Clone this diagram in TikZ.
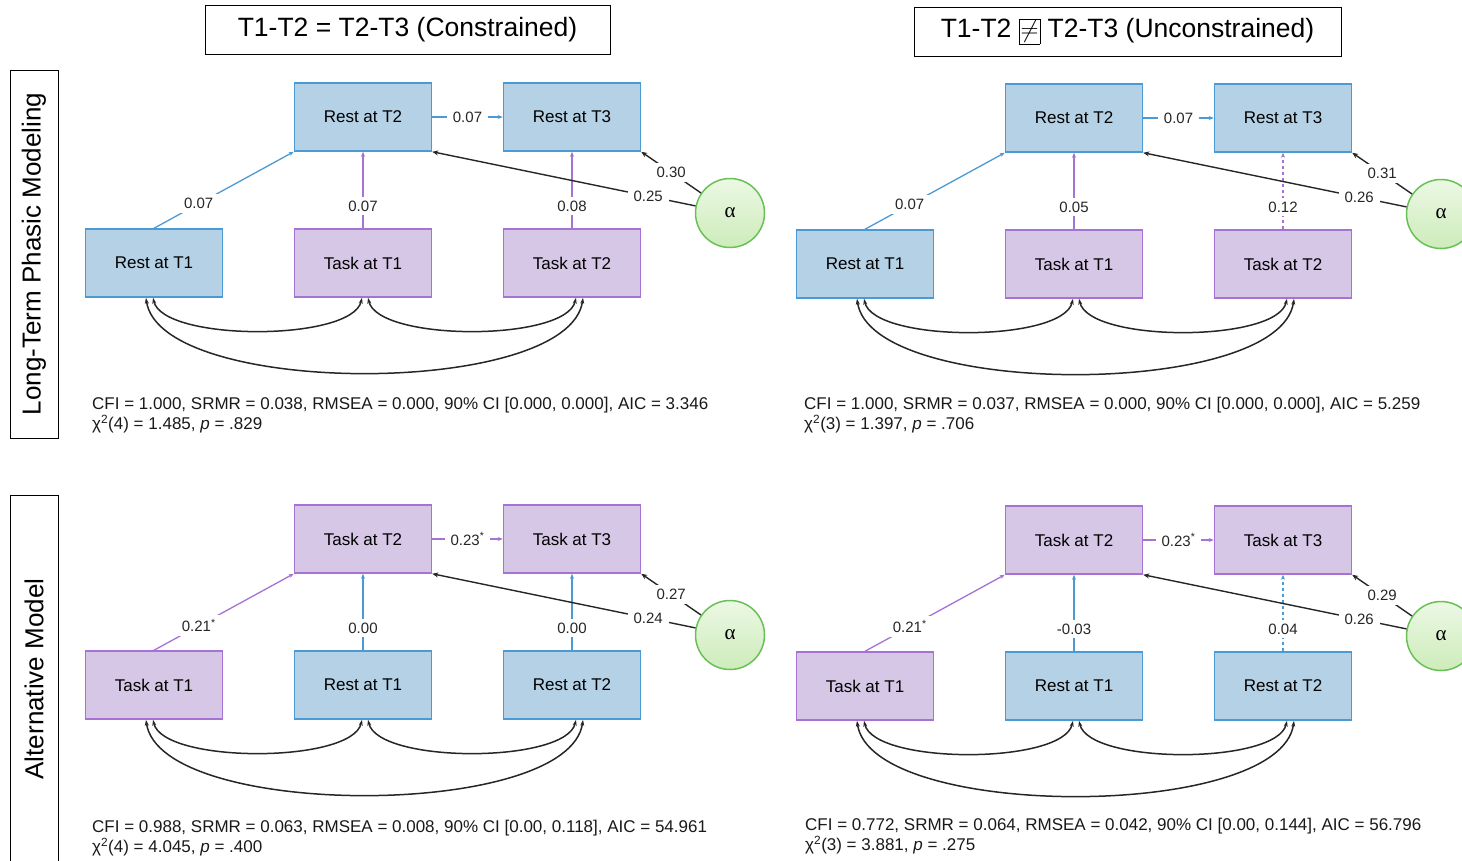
\documentclass[tikz,border=0pt]{standalone}
\usepackage{fontspec}
\setmainfont{Liberation Sans}
\newfontfamily\greekfont{Liberation Serif}
\usetikzlibrary{positioning,arrows.meta}

\definecolor{restfill}{RGB}{180,209,230}
\definecolor{restline}{RGB}{76,154,212}
\definecolor{taskfill}{RGB}{215,199,231}
\definecolor{taskline}{RGB}{166,114,211}
\definecolor{alphafill}{RGB}{205,236,186}
\definecolor{alphatop}{RGB}{236,248,228}
\definecolor{alphaline}{RGB}{104,192,86}

\tikzset{
  every node/.style={font=\fontsize{17}{20}\selectfont},
  Restbox/.style={draw=restline, fill=restfill, line width=1.5pt, minimum width=137pt, minimum height=68pt, inner sep=0pt},
  Taskbox/.style={draw=taskline, fill=taskfill, line width=1.5pt, minimum width=137pt, minimum height=68pt, inner sep=0pt},
  Restarrow/.style={draw=restline, line width=1.3pt, -{Stealth[length=5pt,width=4pt]}},
  Taskarrow/.style={draw=taskline, line width=1.3pt, -{Stealth[length=5pt,width=4pt]}},
  load/.style={draw=black!85, line width=1.4pt, -{Stealth[length=6pt,width=5pt]}},
  cov/.style={draw=black!85, line width=1.5pt, {Stealth[length=6pt,width=4pt]}-{Stealth[length=6pt,width=4pt]}},
  coef/.style={fill=white, inner xsep=6pt, inner ysep=4pt, text=black!85, font=\fontsize{15}{18}\selectfont},
  alpha/.style={circle, draw=alphaline, line width=1.5pt, top color=alphatop, bottom color=alphafill, minimum size=69pt, inner sep=0pt, font=\greekfont\fontsize{21}{24}\selectfont},
  titlebox/.style={draw, line width=0.9pt, minimum height=49pt, inner sep=0pt, font=\fontsize{26.5}{30}\selectfont},
  sidetext/.style={rotate=90, inner sep=0pt, font=\fontsize{26}{30}\selectfont},
  fitstats/.style={anchor=west, align=left, inner sep=0pt, text=black!90, font=\fontsize{17}{20}\selectfont}
}

% #1 = top row, #2 = predictor row, #3 = line style of T2 -> T3 path,
% #4..#9 = coefficients
\newcommand{\model}[9]{%
  \node[#2box] (b1) at (363,263) {#2 at T1};
  \node[#1box, left=70.5pt of b1] (a1) {#1 at T1};
  \node[#2box, right=70.5pt of b1] (b2) {#2 at T2};
  \node[#1box, above=76.5pt of b1] (a2) {#1 at T2};
  \node[#1box, above=76.5pt of b2] (a3) {#1 at T3};
  \node[alpha] (al) at (730,213) {α};
  % Paths
  \draw[#1arrow] (a1.north) -- node[coef, pos=0.32] {#4} (a2.south west);
  \draw[#2arrow] (b1.north) -- node[coef, pos=0.29] {#5} (a2.south);
  \draw[#2arrow, #3] (b2.north) -- node[coef, pos=0.29] {#6} (a3.south);
  \draw[#1arrow] (a2.east) -- node[coef] {#7} (a3.west);
  \draw[load] (al) -- node[coef] {#8} (a3.south east);
  \draw[load] (al) -- node[coef, pos=0.18] {#9} (a2.south east);
  % Covariances
  \draw[cov] ([xshift=-1pt]a1.south) .. controls +(10,44) and +(-10,44) .. ([xshift=-1pt]b1.south);
  \draw[cov] ([xshift=5pt]b1.south) .. controls +(10,44) and +(-10,44) .. ([xshift=4pt]b2.south);
  \draw[cov] ([xshift=-8pt]a1.south) .. controls +(14,100) and +(-14,100) .. ([xshift=11pt]b2.south);
}

\begin{document}
\begin{tikzpicture}[x=1pt, y=-1pt]
  \useasboundingbox (0,0) rectangle (1462,860);
  \clip (0,0) rectangle (1462,860);

  % Column and row headings
  \node[titlebox, minimum width=405pt] (con) at (407.5,29.5) {T1-T2 = T2-T3 (Constrained)};
  \node[titlebox, minimum width=427pt] (unc) at (1127.5,31.5) {T1-T2 \setlength{\fboxsep}{1pt}\setlength{\fboxrule}{0.8pt}\fbox{$\neq$} T2-T3 (Unconstrained)};
  \node[sidetext, draw, line width=0.9pt, minimum width=368pt, minimum height=48pt] (ltpm) at (34,254) {Long-Term Phasic Modeling};
  \draw[line width=0.9pt] (10,900) -- (10,495) -- (58,495) -- (58,900);
  \node[sidetext] (alt) at (34,679) {Alternative Model};

  % Long-term phasic model, constrained
  \model{Rest}{Task}{solid}{0.07}{0.07}{0.08}{0.07}{0.30}{0.25}
  \node[fitstats] (fit1) at (92,415) {CFI = 1.000, SRMR = 0.038, RMSEA = 0.000, 90\% CI [0.000, 0.000], AIC = 3.346\\
    χ\textsuperscript{2}(4) = 1.485, \textit{p} = .829};

  % Long-term phasic model, unconstrained
  \begin{scope}[shift={(711,1)}]
    \model{Rest}{Task}{dashed}{0.07}{0.05}{0.12}{0.07}{0.31}{0.26}
    \node[fitstats] (fit2) at (93,414) {CFI = 1.000, SRMR = 0.037, RMSEA = 0.000, 90\% CI [0.000, 0.000], AIC = 5.259\\
      χ\textsuperscript{2}(3) = 1.397, \textit{p} = .706};
  \end{scope}

  % Alternative model, constrained
  \begin{scope}[shift={(0,422)}]
    \model{Task}{Rest}{solid}{0.21\textsuperscript{*}}{0.00}{0.00}{0.23\textsuperscript{*}}{0.27}{0.24}
    \node[fitstats] (fit3) at (92,416) {CFI = 0.988, SRMR = 0.063, RMSEA = 0.008, 90\% CI [0.00, 0.118], AIC = 54.961\\
      χ\textsuperscript{2}(4) = 4.045, \textit{p} = .400};
  \end{scope}

  % Alternative model, unconstrained
  \begin{scope}[shift={(711,423)}]
    \model{Task}{Rest}{dashed}{0.21\textsuperscript{*}}{-0.03}{0.04}{0.23\textsuperscript{*}}{0.29}{0.26}
    \node[fitstats] (fit4) at (94,413) {CFI = 0.772, SRMR = 0.064, RMSEA = 0.042, 90\% CI [0.00, 0.144], AIC = 56.796\\
      χ\textsuperscript{2}(3) = 3.881, \textit{p} = .275};
  \end{scope}
\end{tikzpicture}
\end{document}
